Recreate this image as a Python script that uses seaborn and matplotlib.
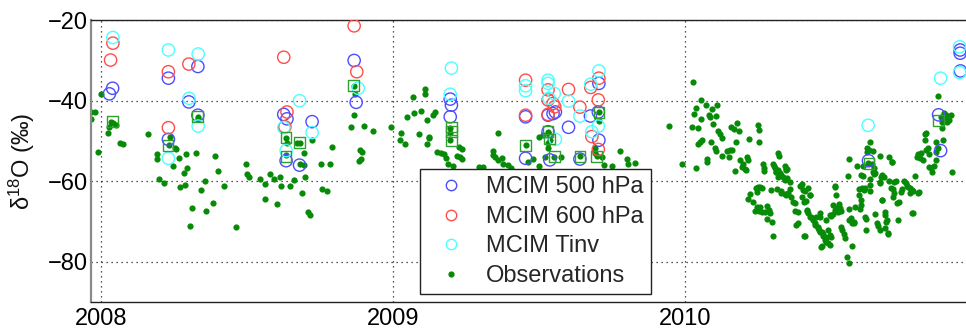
import matplotlib
matplotlib.use("Agg")
import matplotlib.pyplot as plt
import seaborn as sns
import pandas as pd
from matplotlib.lines import Line2D

# ---------------- data (decimal year, delta18O permil) ----------------
obs_2008 = [(2007.966, -42.8), (2007.981, -42.8), (2007.966, -44.5), (2008.0, -38.3), (2007.99, -52.7),
            (2008.023, -47.9), (2008.026, -46.5), (2008.035, -45.2), (2008.043, -45.6), (2008.05, -46.0),
            (2008.064, -50.4), (2008.075, -50.8), (2008.161, -48.3), (2008.192, -53.2), (2008.192, -54.6),
            (2008.2, -59.5), (2008.215, -60.5), (2008.233, -51.1), (2008.235, -48.9), (2008.247, -56.1),
            (2008.254, -51.8), (2008.258, -52.1), (2008.267, -54.2), (2008.271, -61.5), (2008.283, -58.0),
            (2008.288, -61.0), (2008.292, -53.2), (2008.296, -56.8), (2008.306, -71.0), (2008.313, -66.6),
            (2008.327, -53.1), (2008.334, -44.0), (2008.334, -44.5), (2008.344, -62.2), (2008.357, -60.0),
            (2008.361, -67.3), (2008.383, -65.3), (2008.392, -53.7), (2008.401, -57.5), (2008.423, -61.3),
            (2008.462, -71.4), (2008.496, -55.6), (2008.5, -58.3), (2008.508, -58.9), (2008.544, -59.4),
            (2008.561, -60.6), (2008.562, -64.4), (2008.579, -58.1), (2008.593, -59.4), (2008.604, -65.6),
            (2008.613, -59.0), (2008.618, -61.2), (2008.634, -53.6), (2008.634, -49.2), (2008.638, -50.4),
            (2008.649, -61.1), (2008.661, -59.7), (2008.673, -50.6), (2008.682, -50.6), (2008.68, -55.6),
            (2008.688, -62.9), (2008.696, -53.1), (2008.697, -56.0), (2008.7, -59.0), (2008.709, -67.6),
            (2008.715, -68.4), (2008.722, -49.8), (2008.753, -55.6), (2008.757, -62.0), (2008.775, -62.4),
            (2008.783, -55.6), (2008.791, -51.4), (2008.867, -36.3), (2008.871, -38.4), (2008.867, -43.6),
            (2008.857, -46.6), (2008.887, -52.2), (2008.893, -52.7), (2008.883, -54.9), (2008.89, -54.6),
            (2008.9, -46.3), (2008.933, -47.5), (2008.992, -46.6)]

obs_2009 = [(2009.026, -47.9), (2009.024, -49.8), (2009.04, -50.8), (2009.049, -44.1), (2009.067, -39.2),
            (2009.071, -43.0), (2009.09, -48.3), (2009.097, -42.6), (2009.108, -37.1), (2009.11, -38.4),
            (2009.115, -44.8), (2009.123, -48.9), (2009.125, -49.3), (2009.115, -50.8), (2009.138, -43.6),
            (2009.144, -42.9), (2009.15, -52.7), (2009.165, -53.1), (2009.174, -53.3), (2009.18, -54.3),
            (2009.195, -46.7), (2009.195, -47.9), (2009.195, -49.8), (2009.189, -55.6), (2009.206, -56.1),
            (2009.227, -51.6), (2009.236, -51.9), (2009.22, -53.7), (2009.229, -53.9), (2009.237, -54.5),
            (2009.293, -56.4), (2009.309, -56.4), (2009.342, -52.4), (2009.341, -53.5), (2009.35, -53.9),
            (2009.36, -47.9), (2009.36, -54.7), (2009.372, -54.3), (2009.378, -55.6), (2009.394, -56.0),
            (2009.404, -56.6), (2009.454, -51.1), (2009.463, -55.3), (2009.48, -54.6), (2009.5, -56.1),
            (2009.5, -48.9), (2009.512, -48.5), (2009.522, -54.1), (2009.531, -47.7), (2009.534, -48.3),
            (2009.537, -49.8), (2009.53, -50.6), (2009.531, -51.8), (2009.552, -53.9), (2009.574, -54.1),
            (2009.64, -53.7), (2009.691, -53.1), (2009.697, -53.7), (2009.691, -51.8), (2009.705, -42.8),
            (2009.705, -45.0), (2009.714, -53.9), (2009.724, -55.9), (2009.75, -56.1), (2009.778, -52.4),
            (2009.8, -54.4), (2009.805, -55.6), (2009.83, -55.5), (2009.944, -46.4), (2009.988, -55.6)]

obs_2010a = [(2010.027, -35.3), (2010.054, -39.7), (2010.037, -41.9), (2010.071, -41.1), (2010.032, -43.3),
             (2010.092, -42.0), (2010.109, -41.0), (2010.053, -44.5), (2010.082, -43.6), (2010.085, -44.1),
             (2010.105, -43.9), (2010.023, -46.5), (2010.045, -46.9), (2010.096, -45.8), (2010.113, -47.5),
             (2010.119, -48.3), (2010.125, -49.3), (2010.058, -49.8), (2010.05, -50.2), (2010.045, -50.8),
             (2010.088, -50.2), (2010.102, -51.8), (2010.107, -52.4), (2010.075, -54.6), (2010.076, -55.3),
             (2010.037, -56.8), (2010.128, -53.7), (2010.142, -52.4), (2010.153, -52.2), (2010.162, -52.2),
             (2010.15, -53.9), (2010.156, -46.5), (2010.167, -47.0), (2010.179, -45.5), (2010.185, -47.5),
             (2010.176, -50.2), (2010.172, -57.5), (2010.189, -54.7), (2010.196, -56.4), (2010.204, -57.0),
             (2010.212, -53.9), (2010.216, -54.7), (2010.219, -49.6), (2010.25, -46.0), (2010.253, -47.3),
             (2010.253, -50.2), (2010.267, -55.8), (2010.272, -56.8), (2010.271, -57.4), (2010.223, -63.2),
             (2010.216, -64.5), (2010.231, -65.1), (2010.244, -61.8), (2010.256, -61.4), (2010.241, -67.3),
             (2010.256, -66.5), (2010.28, -66.2), (2010.286, -67.2), (2010.273, -67.6), (2010.28, -69.4),
             (2010.299, -70.1), (2010.302, -73.5), (2010.293, -62.2), (2010.301, -55.8), (2010.307, -56.8),
             (2010.313, -57.6), (2010.318, -52.9), (2010.322, -53.7), (2010.341, -56.1), (2010.345, -57.0),
             (2010.324, -58.5), (2010.335, -59.0), (2010.35, -59.3), (2010.358, -60.1), (2010.315, -61.9),
             (2010.33, -62.9), (2010.341, -63.2), (2010.352, -63.0), (2010.358, -61.9), (2010.364, -63.9),
             (2010.37, -65.1), (2010.375, -65.5), (2010.376, -67.4), (2010.388, -67.6), (2010.381, -70.9),
             (2010.387, -70.5), (2010.198, -55.7), (2010.21, -57.2), (2010.263, -61.8), (2010.25, -61.5),
             (2010.247, -62.6), (2010.246, -66.3), (2010.253, -67.3), (2010.262, -67.6), (2010.29, -68.0),
             (2010.303, -56.2), (2010.318, -57.2), (2010.324, -57.9), (2010.31, -57.8), (2010.318, -58.9),
             (2010.33, -58.5), (2010.341, -59.7), (2010.345, -57.2), (2010.349, -57.0), (2010.33, -62.4),
             (2010.347, -63.4)]

obs_2010b = [(2010.398, -61.1), (2010.404, -62.2), (2010.402, -63.9), (2010.421, -61.8), (2010.427, -63.3),
             (2010.415, -64.9), (2010.407, -65.1), (2010.417, -67.3), (2010.421, -68.0), (2010.406, -73.5),
             (2010.412, -73.5), (2010.432, -68.8), (2010.438, -69.6), (2010.444, -70.3), (2010.45, -68.8),
             (2010.463, -67.8), (2010.461, -68.8), (2010.455, -71.3), (2010.458, -72.1), (2010.47, -72.7),
             (2010.474, -73.1), (2010.48, -73.8), (2010.478, -74.6), (2010.47, -76.1), (2010.467, -76.3),
             (2010.489, -72.1), (2010.495, -73.4), (2010.501, -73.9), (2010.484, -75.0), (2010.484, -69.6),
             (2010.501, -68.6), (2010.506, -68.1), (2010.512, -67.2), (2010.518, -66.7), (2010.515, -61.1),
             (2010.518, -63.4), (2010.526, -65.7), (2010.529, -66.7), (2010.535, -67.3), (2010.535, -71.3),
             (2010.538, -72.0), (2010.543, -73.0), (2010.546, -74.2), (2010.554, -78.9), (2010.56, -80.4),
             (2010.571, -76.1), (2010.558, -58.6), (2010.563, -54.6), (2010.561, -67.0), (2010.569, -69.2),
             (2010.573, -70.5), (2010.578, -70.1), (2010.563, -69.6), (2010.583, -66.3), (2010.598, -67.0),
             (2010.594, -63.4), (2010.601, -64.7), (2010.595, -61.9), (2010.607, -61.6), (2010.612, -62.2),
             (2010.603, -58.5), (2010.611, -56.1), (2010.617, -69.0), (2010.621, -69.4), (2010.392, -61.2),
             (2010.402, -60.7), (2010.41, -62.4), (2010.427, -63.4), (2010.419, -67.2), (2010.427, -68.8),
             (2010.444, -70.9), (2010.454, -71.6), (2010.461, -72.6), (2010.471, -73.6), (2010.481, -74.1),
             (2010.488, -75.3), (2010.495, -75.9), (2010.512, -61.4), (2010.506, -65.9), (2010.495, -68.4),
             (2010.523, -67.6), (2010.588, -56.1), (2010.609, -58.7), (2010.603, -65.9), (2010.615, -61.8),
             (2010.58, -70.5), (2010.621, -72.1)]

obs_2010c = [(2010.624, -51.8), (2010.624, -52.7), (2010.63, -52.2), (2010.635, -50.2), (2010.643, -52.4),
             (2010.641, -55.8), (2010.646, -56.8), (2010.649, -58.0), (2010.628, -55.4), (2010.632, -59.5),
             (2010.632, -61.0), (2010.635, -62.4), (2010.652, -68.2), (2010.657, -70.3), (2010.66, -71.1),
             (2010.666, -72.1), (2010.666, -60.1), (2010.669, -60.4), (2010.666, -53.7), (2010.674, -64.7),
             (2010.686, -67.7), (2010.691, -69.6), (2010.695, -73.2), (2010.675, -58.5), (2010.68, -58.9),
             (2010.7, -54.1), (2010.708, -55.3), (2010.698, -60.0), (2010.712, -61.9), (2010.717, -60.1),
             (2010.706, -61.8), (2010.717, -63.0), (2010.725, -65.5), (2010.732, -65.1), (2010.729, -69.6),
             (2010.741, -62.6), (2010.749, -59.9), (2010.755, -60.5), (2010.759, -61.2), (2010.763, -61.4),
             (2010.769, -61.8), (2010.777, -62.2), (2010.782, -62.4), (2010.797, -62.9), (2010.777, -67.8),
             (2010.782, -67.8), (2010.789, -58.6), (2010.794, -53.9), (2010.798, -53.2), (2010.803, -54.3),
             (2010.809, -52.9), (2010.814, -54.7), (2010.82, -48.3), (2010.826, -47.9), (2010.82, -49.8),
             (2010.826, -52.2), (2010.831, -51.8), (2010.837, -53.3), (2010.835, -56.4), (2010.843, -56.6),
             (2010.846, -57.8), (2010.852, -56.2), (2010.858, -54.7), (2010.858, -50.2), (2010.883, -49.8),
             (2010.86, -52.7), (2010.866, -51.8), (2010.867, -38.8), (2010.88, -46.9), (2010.88, -45.2),
             (2010.877, -44.0), (2010.885, -43.1), (2010.889, -44.0), (2010.894, -43.6), (2010.896, -45.2),
             (2010.903, -44.8), (2010.911, -43.6), (2010.915, -57.8), (2010.643, -57.6), (2010.646, -58.3),
             (2010.672, -59.0), (2010.675, -64.7), (2010.683, -68.4), (2010.689, -70.1), (2010.683, -71.7),
             (2010.694, -72.9), (2010.709, -55.2), (2010.712, -63.9), (2010.723, -59.9), (2010.744, -61.9),
             (2010.771, -63.0), (2010.801, -62.6)]

matched_obs = [(2008.039, -45.2), (2008.230, -51.2), (2008.33, -44.0), (2008.634, -49.1), (2008.634, -53.9),
               (2008.679, -50.3), (2008.864, -36.3), (2009.2, -46.5), (2009.2, -47.7), (2009.2, -49.8),
               (2009.454, -51.1), (2009.531, -47.6), (2009.537, -49.5), (2009.552, -53.8), (2009.64, -53.8),
               (2009.697, -53.8), (2009.705, -42.9), (2010.63, -55.6), (2010.868, -45.0)]

mcim_500 = [(2008.04, -36.9), (2008.029, -38.3), (2008.231, -34.4), (2008.231, -49.6), (2008.301, -40.3),
            (2008.332, -31.5), (2008.332, -43.6), (2008.626, -43.4), (2008.637, -44.5), (2008.634, -54.9),
            (2008.68, -56.0), (2008.723, -45.2), (2008.867, -30.0), (2008.874, -40.4), (2009.196, -39.6),
            (2009.2, -41.1), (2009.196, -44.0), (2009.454, -44.0), (2009.454, -54.3), (2009.531, -43.6),
            (2009.531, -47.7), (2009.537, -54.7), (2009.548, -43.2), (2009.556, -42.8), (2009.601, -46.6),
            (2009.64, -54.5), (2009.676, -43.8), (2009.705, -35.7), (2009.705, -49.8), (2009.703, -42.8),
            (2010.628, -54.9), (2010.875, -52.4), (2010.868, -43.5), (2010.942, -27.4), (2010.942, -28.2),
            (2010.943, -32.6)]

mcim_600 = [(2008.033, -29.9), (2008.041, -25.7), (2008.231, -32.8), (2008.231, -46.7), (2008.301, -30.9),
            (2008.626, -29.2), (2008.637, -42.8), (2008.63, -46.5), (2008.867, -21.4), (2008.876, -32.8),
            (2009.454, -34.9), (2009.454, -43.6), (2009.531, -37.3), (2009.531, -39.8), (2009.548, -40.7),
            (2009.554, -41.5), (2009.531, -43.4), (2009.601, -37.2), (2009.64, -41.6), (2009.677, -36.7),
            (2009.705, -34.4), (2009.703, -39.8), (2009.681, -48.9), (2009.703, -52.1)]

mcim_tinv = [(2008.041, -24.3), (2008.231, -27.4), (2008.231, -54.3), (2008.302, -39.4), (2008.333, -28.4),
             (2008.333, -46.3), (2008.626, -46.7), (2008.634, -52.4), (2008.68, -40.0), (2008.723, -47.9),
             (2008.881, -36.9), (2009.2, -31.9), (2009.196, -38.4), (2009.454, -36.3), (2009.454, -37.5),
             (2009.531, -34.9), (2009.531, -35.7), (2009.534, -39.4), (2009.552, -38.2), (2009.556, -49.6),
             (2009.601, -40.1), (2009.64, -43.8), (2009.677, -35.9), (2009.705, -32.6), (2009.681, -47.7),
             (2009.703, -46.3), (2010.627, -46.1), (2010.875, -34.4), (2010.94, -26.6), (2010.94, -33.0)]

legend_labels = ["MCIM 500 hPa", "MCIM 600 hPa", "MCIM Tinv", "Observations"]
year_ticks = [2008, 2009, 2010]
value_ticks = [-80, -60, -40, -20]

# ---------------- styling ----------------
GREEN = "#078a07"
SQ_GREEN = "#2ea02e"
BLUE = "#4d4dff"
RED = "#ff4d4d"
CYAN = "#4dffff"

sns.set_theme(style="white")
plt.rcParams["font.family"] = ["Liberation Sans", "DejaVu Sans"]
plt.rcParams["mathtext.default"] = "regular"
FS = 17

fig = plt.figure(figsize=(9.66, 3.31), dpi=100)
ax = fig.add_axes([91 / 966, 1 - 302 / 331, 875 / 966, (302 - 20.2) / 331])


def frame(pairs):
    return pd.DataFrame(pairs, columns=["year", "d18O"])


obs = pd.concat([frame(obs_2008), frame(obs_2009), frame(obs_2010a),
                 frame(obs_2010b), frame(obs_2010c)], ignore_index=True)

sns.scatterplot(data=obs, x="year", y="d18O", ax=ax, color=GREEN, s=20,
                linewidth=0, zorder=2, legend=False)
for pairs, col in [(mcim_500, BLUE), (mcim_600, RED), (mcim_tinv, CYAN)]:
    sns.scatterplot(data=frame(pairs), x="year", y="d18O", ax=ax, marker="o", s=78,
                    color=col, facecolor="none", edgecolor=col, linewidth=1.0,
                    zorder=3, legend=False)
sns.scatterplot(data=frame(matched_obs), x="year", y="d18O", ax=ax, marker="s", s=60,
                color=SQ_GREEN, facecolor="none", edgecolor=SQ_GREEN, linewidth=1.0,
                zorder=4, legend=False)

ax.set_xlim(2007.966, 2010.962)
ax.set_ylim(-90, -20)
ax.set_xticks(year_ticks)
ax.set_xticklabels([str(y) for y in year_ticks])
ax.set_yticks(value_ticks)
ax.grid(True, linestyle=(0, (1, 3)), color="#222222", linewidth=0.9)
ax.set_axisbelow(True)
ax.tick_params(axis="both", direction="in", length=4, width=0.8, labelsize=FS, colors="#222222")
ax.tick_params(axis="y", pad=2)
ax.tick_params(axis="x", pad=4)
for lab in ax.get_xticklabels() + ax.get_yticklabels():
    lab.set_color("black")
ax.set_xlabel("")
ax.set_ylabel("δ$^{18}$O (‰)", fontsize=FS, labelpad=8, color="#111111")

ax.spines["right"].set_visible(False)
ax.spines["top"].set_color("#222222")
ax.spines["bottom"].set_color("#222222")
ax.spines["left"].set_color("#8a8a8a")
ax.spines["left"].set_linewidth(1.6)
for s in ["top", "bottom"]:
    ax.spines[s].set_linewidth(1.0)

handles = [
    Line2D([], [], ls="", marker="o", ms=7.5, mfc="none", mec=BLUE, mew=1.0),
    Line2D([], [], ls="", marker="o", ms=7.5, mfc="none", mec=RED, mew=1.0),
    Line2D([], [], ls="", marker="o", ms=7.5, mfc="none", mec=CYAN, mew=1.0),
    Line2D([], [], ls="", marker="o", ms=4.5, mfc=GREEN, mec=GREEN, mew=0),
]
leg = ax.legend(handles, legend_labels, loc="lower left",
                bbox_to_anchor=((420 - 91) / 875, (302 - 294) / 281.8),
                borderaxespad=0, fontsize=FS, frameon=True, fancybox=False,
                edgecolor="#222222", framealpha=1, facecolor="white",
                borderpad=0.3, handlelength=2.0, handletextpad=0.5, labelspacing=0.32)
leg.get_frame().set_linewidth(1.0)
leg.set_zorder(10)

fig.savefig("out.png", dpi=100)
